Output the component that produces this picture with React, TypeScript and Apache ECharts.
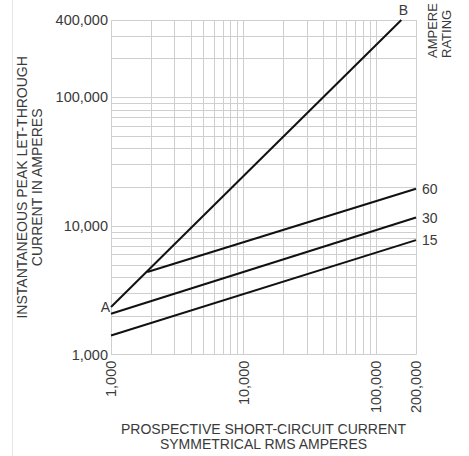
import React, { useEffect, useRef } from "react";
import * as echarts from "echarts";

// Gridline values (log-scale decades subdivided)
const xGrid = [
  1000, 2000, 3000, 4000, 5000, 6000, 7000, 8000, 9000,
  10000, 20000, 30000, 40000, 50000, 60000, 70000, 80000, 90000,
  100000, 200000,
];
const yGrid = [
  1000, 2000, 3000, 4000, 5000, 6000, 7000, 8000, 9000,
  10000, 20000, 30000, 40000, 50000, 60000, 70000, 80000, 90000,
  100000, 200000, 300000, 400000,
];

// Axis extents
const xMin = 1000;
const xMax = 200000;
const yMin = 1000;
const yMax = 400000;

// Curves: [prospective current, peak let-through]
const lineAB = [
  [1000, 2350],
  [155000, 400000],
];
const line60 = [
  [1880, 4400],
  [200000, 19500],
];
const line30 = [
  [1000, 2080],
  [200000, 11650],
];
const line15 = [
  [1000, 1410],
  [200000, 7780],
];

const FONT = "'Liberation Sans', Arial, Helvetica, sans-serif";
const TEXT = "#3a3a3a";

function fmt(v: number): string {
  const s = String(Math.round(v));
  return s.replace(/\B(?=(\d{3})+(?!\d))/g, ",");
}

export default function App() {
  const ref = useRef<HTMLDivElement>(null);

  useEffect(() => {
    if (!ref.current) return;
    const chart = echarts.init(ref.current, null, { renderer: "svg" });

    const lineStyle = { color: "#111", width: 2 };
    const endLabel = (name: string) => ({
      show: true,
      position: "right" as const,
      distance: 6,
      formatter: name,
      color: TEXT,
      fontSize: 14,
      fontFamily: FONT,
    });

    const mkSeries = (
      name: string,
      pts: number[][],
      firstLabel: any,
      lastLabel: any
    ) => ({
      type: "line",
      name,
      showSymbol: true,
      symbol: "circle",
      symbolSize: 0.01,
      itemStyle: { color: "transparent" },
      lineStyle,
      z: 5,
      silent: true,
      data: pts.map((p, i) => {
        const item: any = { value: p };
        if (i === 0 && firstLabel) item.label = firstLabel;
        else if (i === pts.length - 1 && lastLabel) item.label = lastLabel;
        else item.label = { show: false };
        return item;
      }),
    });

    const option: any = {
      animation: false,
      backgroundColor: "#fff",
      grid: { left: 111, right: 53, top: 20, bottom: 100, containLabel: false },
      xAxis: {
        type: "log",
        logBase: 10,
        min: xMin,
        max: xMax,
        axisLine: { show: false },
        axisTick: { show: false },
        splitLine: { show: false },
        axisLabel: {
          rotate: 90,
          margin: 6,
          color: TEXT,
          fontSize: 14.5,
          fontFamily: FONT,
          formatter: (v: number) => fmt(v),
        },
        name: "PROSPECTIVE SHORT-CIRCUIT CURRENT\nSYMMETRICAL RMS AMPERES",
        nameLocation: "middle",
        nameGap: 66,
        nameTextStyle: {
          color: TEXT,
          fontSize: 14,
          fontFamily: FONT,
          lineHeight: 15,
          align: "center",
        },
      },
      yAxis: {
        type: "log",
        logBase: 10,
        min: yMin,
        max: yMax,
        axisLine: { show: false },
        axisTick: { show: false },
        splitLine: { show: false },
        axisLabel: {
          margin: 3,
          color: TEXT,
          fontSize: 14.5,
          fontFamily: FONT,
          formatter: (v: number) => fmt(v),
        },
        name: "INSTANTANEOUS PEAK LET-THROUGH\nCURRENT IN AMPERES",
        nameLocation: "middle",
        nameGap: 64,
        nameTextStyle: {
          color: TEXT,
          fontSize: 14,
          fontFamily: FONT,
          lineHeight: 15,
          align: "center",
        },
      },
      graphic: [
        {
          type: "line",
          shape: { x1: 12.5, y1: 0, x2: 12.5, y2: 456 },
          style: { stroke: "#e6e6e6", lineWidth: 1 },
          silent: true,
        },
        {
          type: "text",
          x: 432.5,
          y: 58,
          rotation: Math.PI / 2,
          style: {
            text: "AMPERE",
            fill: TEXT,
            fontSize: 13,
            fontFamily: FONT,
            align: "left",
            verticalAlign: "middle",
          },
        },
        {
          type: "text",
          x: 446,
          y: 58,
          rotation: Math.PI / 2,
          style: {
            text: "RATING",
            fill: TEXT,
            fontSize: 13,
            fontFamily: FONT,
            align: "left",
            verticalAlign: "middle",
          },
        },
      ],
      series: [
        {
          type: "line",
          name: "grid",
          data: [],
          silent: true,
          z: 1,
          markLine: {
            silent: true,
            symbol: ["none", "none"],
            label: { show: false },
            lineStyle: { color: "#cfcfcf", width: 1, type: "solid" },
            emphasis: { disabled: true },
            data: [
              ...xGrid.map((v) => ({ xAxis: v })),
              ...yGrid.map((v) => ({ yAxis: v })),
            ],
          },
        },
        mkSeries(
          "AB",
          lineAB,
          {
            show: true,
            position: "left",
            distance: 1,
            formatter: "A",
            color: TEXT,
            fontSize: 14,
            fontFamily: FONT,
          },
          {
            show: true,
            position: "top",
            distance: 3,
            offset: [2, 0],
            formatter: "B",
            color: TEXT,
            fontSize: 14,
            fontFamily: FONT,
          }
        ),
        mkSeries("60", line60, null, endLabel("60")),
        mkSeries("30", line30, null, endLabel("30")),
        mkSeries("15", line15, null, endLabel("15")),
      ],
    };

    chart.setOption(option);
    return () => chart.dispose();
  }, []);

  return (
    <div
      ref={ref}
      style={{ position: "absolute", left: 0, top: 0, width: 469, height: 456 }}
    />
  );
}
